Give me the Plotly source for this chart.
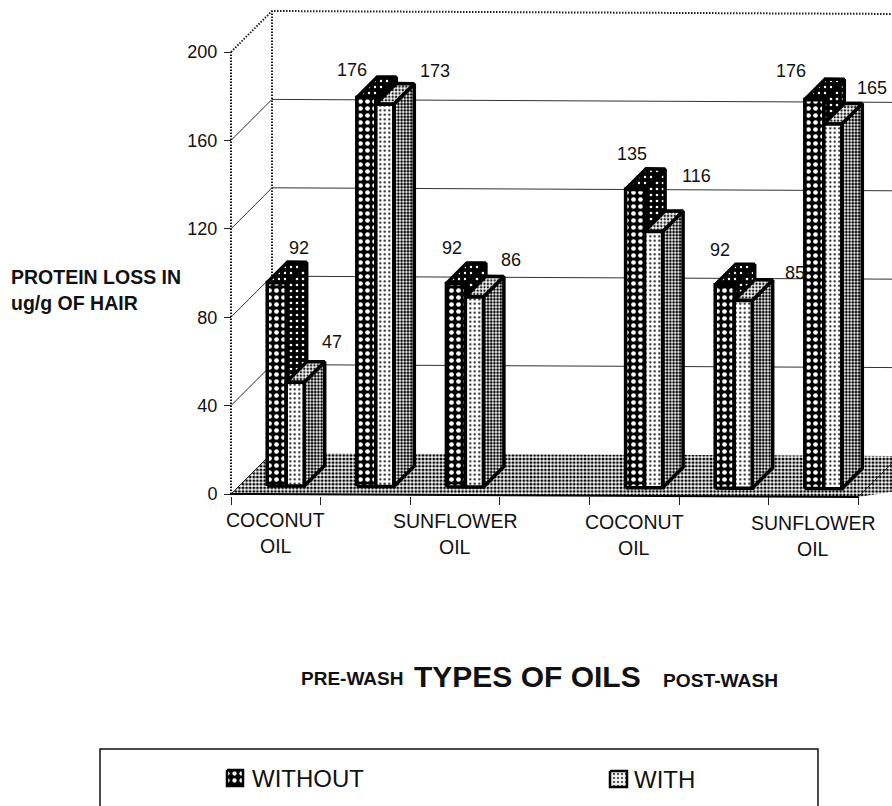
import plotly.graph_objects as go

# ---- data ----
categories = ["COCONUT OIL", "", "SUNFLOWER OIL", "", "COCONUT OIL", "", "SUNFLOWER OIL"]
label_slots = [0, 2, 4, 6]
label_line1 = ["COCONUT", "SUNFLOWER", "COCONUT", "SUNFLOWER"]
label_line2 = ["OIL", "OIL", "OIL", "OIL"]
bar_slots = [0, 1, 2, 4, 5, 6]
without_values = [92, 176, 92, 135, 92, 176]
with_values = [47, 173, 86, 116, 85, 165]
y_ticks = [0, 40, 80, 120, 160, 200]
series_names = ["WITHOUT", "WITH"]

# ---- layout constants ----
W, H = 892, 806
X0_PX, Y0_PX = 231, 494       # page pixel of the chart origin
PX_PER_SLOT = 89.6
PX_PER_UNIT = 2.21
TILT = 0.194                  # the scan is slightly rotated
DX = 41 / PX_PER_SLOT         # oblique depth of the floor
DY = 41 / PX_PER_UNIT
D0, D1 = 0.2, 0.7             # bar depth span
BAR_OFF = 28 / PX_PER_SLOT
W1 = 19 / PX_PER_SLOT
W2 = 18 / PX_PER_SLOT

# label nudges (pixels) so text sits where the reference has it
without_shift = [(22, 35), (-14, 27), (-4, 36), (-3, 35), (-5, 35), (-23, 29)]
with_shift = [(37, 40), (50, 33), (37, 37), (43, 55), (52, 27), (39, 36)]

xr = [-X0_PX / PX_PER_SLOT, (W - X0_PX) / PX_PER_SLOT]
yr = [(Y0_PX - H) / PX_PER_UNIT, Y0_PX / PX_PER_UNIT]


def P(x, v, d=0.0):
    return x + d * DX, v + d * DY - TILT * x


def px(xp, yp):
    return (xp - X0_PX) / PX_PER_SLOT, (Y0_PX - yp) / PX_PER_UNIT


fig = go.Figure()


def poly(pts, pattern=None, color=None, lw=0.0, lc="black", dash=None, closed=True):
    xs = [p[0] for p in pts]
    ys = [p[1] for p in pts]
    if closed:
        xs.append(xs[0])
        ys.append(ys[0])
    kw = {}
    if pattern:
        kw = dict(fill="toself", fillpattern=pattern, fillcolor="white")
    elif color:
        kw = dict(fill="toself", fillcolor=color)
    fig.add_trace(go.Scatter(
        x=xs, y=ys, mode="lines", showlegend=False, hoverinfo="skip",
        line=dict(color=lc, width=lw, dash=dash) if lw else dict(width=0),
        **kw))


def pat(shape, fg, bg, size, sol):
    return dict(shape=shape, fgcolor=fg, bgcolor=bg, size=size, solidity=sol, fgopacity=1)


CHECK = pat(".", "white", "black", 7, 0.36)
CHECK_SIDE = pat(".", "white", "black", 6, 0.16)
CHECK_TOP = pat(".", "white", "black", 6, 0.12)
DOTS = pat(".", "#111111", "white", 4.5, 0.18)
HALF = pat(".", "black", "white", 3.2, 0.55)
HALF_LIGHT = pat(".", "#222222", "white", 3.4, 0.42)
FLOOR = pat(".", "black", "white", 3.6, 0.5)

# floor
poly([P(0, 0), P(0, 0, 1), P(xr[1] + 2, 0, 1), P(7, 0)], pattern=FLOOR)

# grid lines along the walls
for t in y_ticks[1:-1]:
    poly([P(0, t), P(0, t, 1), P(xr[1] + 1, t, 1)], lw=1, lc="#333333", closed=False)
# dotted wall outline
poly([P(0, 200), P(0, 200, 1), P(xr[1] + 1, 200, 1)], lw=2, lc="#222222", dash="1.5px,1.5px", closed=False)
poly([P(0, 0, 1), P(0, 200, 1)], lw=2, lc="#222222", dash="1.5px,1.5px", closed=False)
poly([P(0, 0), P(0, 200)], lw=2, lc="#111111", dash="1.5px,1.5px", closed=False)
poly([P(0, 0), P(0, 0, 1)], lw=1, lc="#222222", closed=False)
poly([P(0, 0), P(7, 0)], lw=2, lc="black", closed=False)
poly([P(7, 0), P(7, 0, 1)], lw=1, lc="#222222", closed=False)


def box(x0, x1, v, front, side, top, lw=3.5):
    poly([P(x1, 0, D0), P(x1, 0, D1), P(x1, v, D1), P(x1, v, D0)], pattern=side, lw=lw)
    poly([P(x0, v, D0), P(x1, v, D0), P(x1, v, D1), P(x0, v, D1)], pattern=top, lw=lw)
    poly([P(x0, 0, D0), P(x1, 0, D0), P(x1, v, D0), P(x0, v, D0)], pattern=front, lw=lw)


annotations = []


def note(x, y, text, size=18, bold=False, xs=0, ys=0, anchor="center"):
    annotations.append(dict(
        x=x, y=y, xref="x", yref="y", text=f"<b>{text}</b>" if bold else text,
        showarrow=False, xanchor=anchor, yanchor="middle", xshift=xs, yshift=ys,
        font=dict(family="Liberation Sans, Arial", size=size, color="#111111")))


for i, slot in enumerate(bar_slots):
    a = slot + BAR_OFF
    b = a + W1
    c = b + W2
    v1, v2 = without_values[i], with_values[i]
    box(a, b, v1, CHECK, CHECK_SIDE, CHECK_TOP)
    box(b, c, v2, DOTS, HALF, HALF_LIGHT)
    x1, y1 = P((a + b) / 2, v1, D0)
    note(x1, y1, str(v1), xs=without_shift[i][0], ys=without_shift[i][1])
    x2, y2 = P((b + c) / 2, v2, D0)
    note(x2, y2, str(v2), xs=with_shift[i][0], ys=with_shift[i][1])

# category labels (two widely spaced lines, hence one note per line)
for slot, l1, l2 in zip(label_slots, label_line1, label_line2):
    x, y = P(slot + 0.5, 0)
    note(x, y, l1, ys=-26, size=19.5)
    note(x, y, l2, ys=-52, size=19.5)

# y axis title
for yy, t in ((277, "PROTEIN LOSS IN"), (303, "ug/g OF HAIR")):
    xa, ya = px(9, yy)
    note(xa, ya, t, size=19.5, bold=True, anchor="left")

# x axis title pieces
xa, ya = px(299, 678)
note(xa, ya, "PRE-WASH", size=19, bold=True, anchor="left")
xa, ya = px(412, 676)
note(xa, ya, "TYPES OF OILS", size=30, bold=True, anchor="left")
xa, ya = px(661, 680)
note(xa, ya, "POST-WASH", size=19.2, bold=True, anchor="left")

# legend box
shapes = [dict(type="rect", xref="paper", yref="paper",
               x0=100 / W, x1=818 / W, y0=-0.02, y1=1 - 749 / H,
               line=dict(color="#111111", width=1.5), fillcolor="rgba(0,0,0,0)")]
for (lx, ly, name, tx, size, key) in ((227, 778, series_names[0], 250, 16, pat(".", "white", "black", 7, 0.3)),
                                      (610, 779, series_names[1], 632, 17, pat(".", "#222222", "#eeeeee", 4, 0.2))):
    poly([px(lx, ly - 8), px(lx + size, ly - 8), px(lx + size, ly + 8), px(lx, ly + 8)], pattern=key, lw=2.5)
    xa, ya = px(tx, ly)
    note(xa, ya, name, size=24, anchor="left")

fig.update_layout(
    width=W, height=H, margin=dict(l=0, r=0, t=0, b=0),
    paper_bgcolor="white", plot_bgcolor="white", showlegend=False,
    annotations=annotations, shapes=shapes,
    xaxis=dict(range=xr, domain=[0, 1], anchor="free", position=1 - 495.5 / H,
               tickmode="array", tickvals=list(range(8)), ticktext=[""] * 8,
               ticks="outside", ticklen=8, tickcolor="#222222", tickwidth=1,
               showgrid=False, zeroline=False, showline=False),
    yaxis=dict(range=yr, domain=[0, 1], anchor="free", position=X0_PX / W,
               tickmode="array", tickvals=y_ticks, ticktext=[str(t) for t in y_ticks],
               ticks="outside", ticklen=7, tickcolor="#222222", tickwidth=1,
               ticklabelstandoff=3,
               tickfont=dict(family="Liberation Sans, Arial", size=18, color="#111111"),
               showgrid=False, zeroline=False, showline=False),
)

fig.write_html("out.html", config={"displayModeBar": False},
               post_script="document.body.style.margin='0';document.body.style.overflow='hidden';")
